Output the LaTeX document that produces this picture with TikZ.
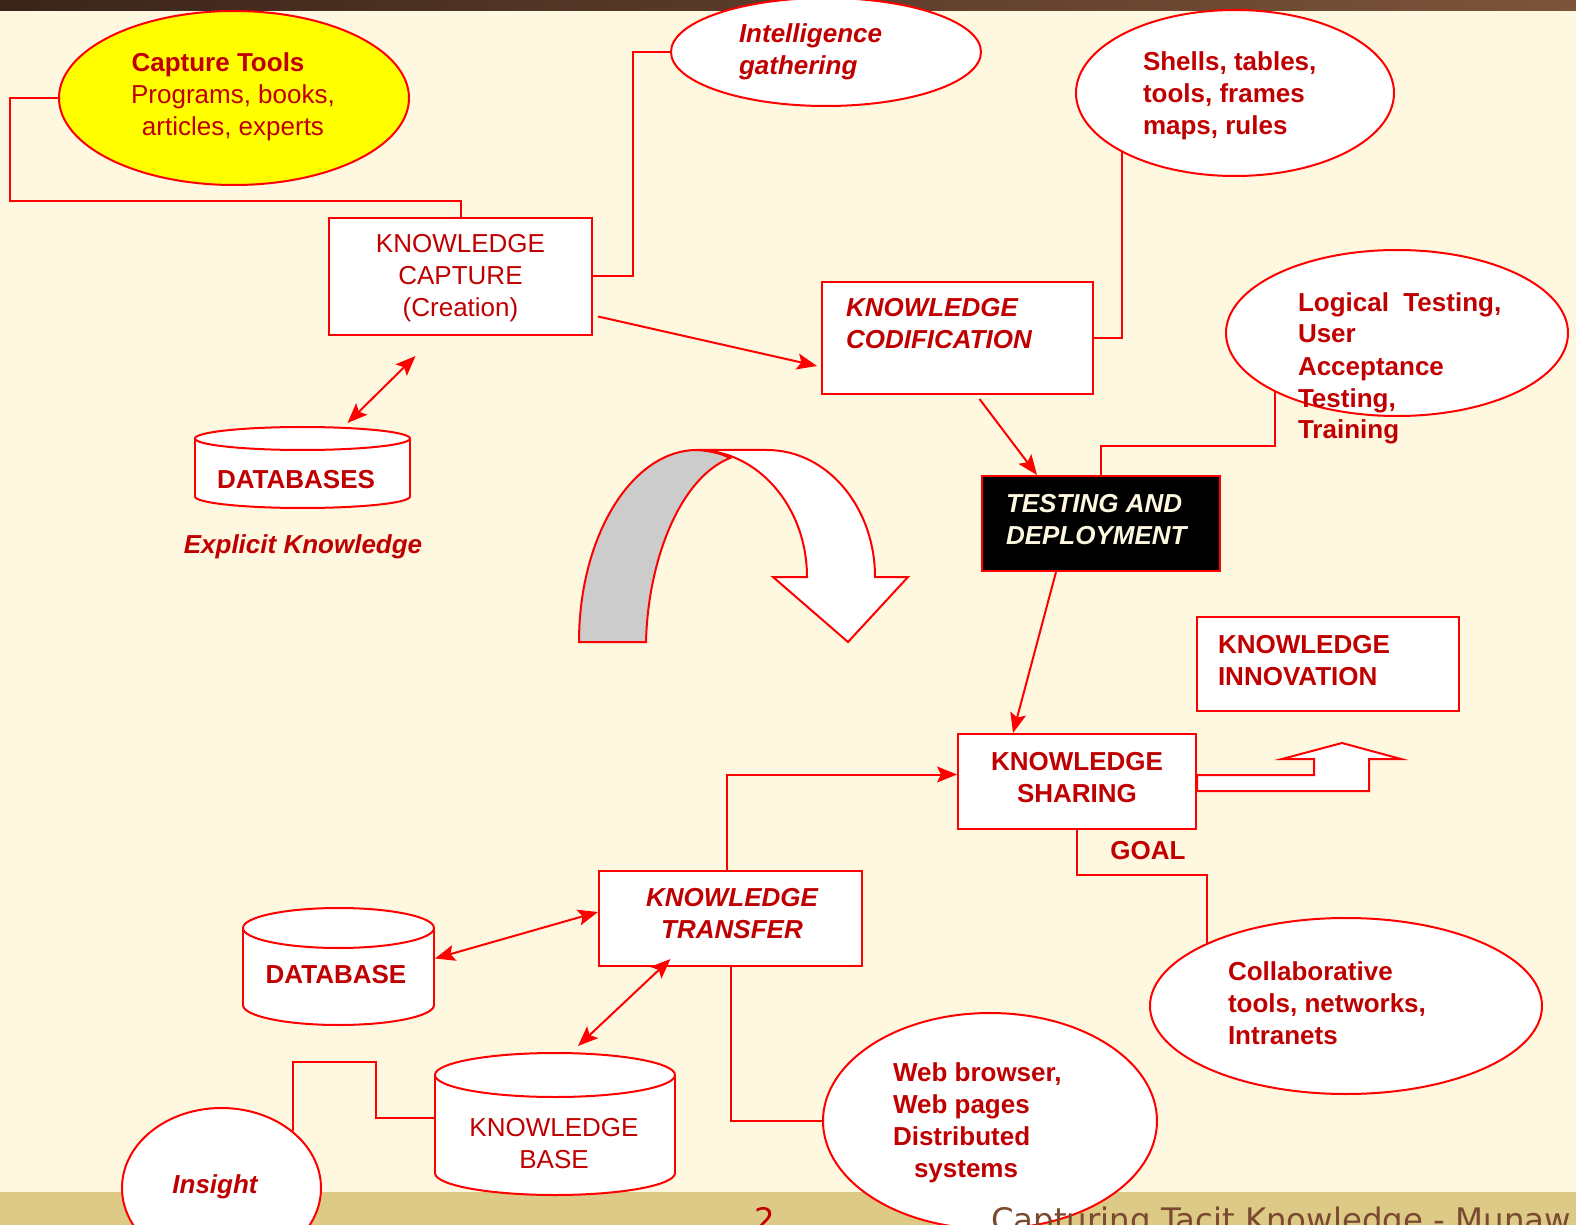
\documentclass[tikz,border=0pt]{standalone}
\usepackage{fontspec}
\setmainfont{Liberation Sans}
\newfontfamily\footfont{DejaVu Sans}
\usetikzlibrary{shapes.geometric,arrows.meta,positioning}

\definecolor{bgcream}{RGB}{255,248,225}
\definecolor{txtred}{RGB}{192,0,0}
\definecolor{linered}{RGB}{255,0,0}
\definecolor{barA}{RGB}{58,36,26}
\definecolor{barB}{RGB}{124,84,58}
\definecolor{footbar}{RGB}{221,202,135}
\definecolor{footbrown}{RGB}{122,74,48}
\definecolor{capyellow}{RGB}{255,255,0}
\definecolor{backgray}{RGB}{204,204,204}

% cylinder: name, centre x, x radius, top y, bottom y, y radius (px)
\newcommand{\dbcyl}[6]{%
  \filldraw[cylline] (#2,#5) ellipse [x radius=#3, y radius=#6];
  \fill[white] (#2-#3,#4) rectangle (#2+#3,#5);
  \draw[cylline] (#2-#3,#4) -- (#2-#3,#5) (#2+#3,#4) -- (#2+#3,#5);
  \filldraw[cylline] (#2,#4) ellipse [x radius=#3, y radius=#6];
  \node[inner sep=0pt, minimum width=#3pt, minimum height={(#5-#4)*0.5pt+#6*1pt}] (#1) at (#2,{(#4+#5)/2}) {};
}

\begin{document}
\begin{tikzpicture}[x=0.5pt, y=-0.5pt, line width=1pt,
    conn/.style={draw=linered, line width=1pt},
    arr/.style={conn, -{Stealth[length=10pt, width=8pt, inset=2pt]}},
    darr/.style={conn, {Stealth[length=10pt, width=8pt, inset=2pt]}-{Stealth[length=10pt, width=8pt, inset=2pt]}},
    cylline/.style={draw=linered, fill=white, line width=1pt},
    bubble/.style={ellipse, draw=linered, fill=white, inner sep=0pt},
    panel/.style={rectangle, draw=linered, fill=white, inner sep=0pt},
    lbl/.style={inner sep=0pt, text=txtred, font=\fontsize{13}{16}\selectfont, align=left},
    lblb/.style={lbl, font=\fontsize{13}{16}\selectfont\bfseries},
    lblbi/.style={lbl, font=\fontsize{13}{16}\selectfont\bfseries\itshape},
    footlbl/.style={inner sep=0pt, anchor=base, font=\footfont\fontsize{16.2}{19}\selectfont}]
    \useasboundingbox (0,0) rectangle (1576,1225);
    \clip (0,0) rectangle (1576,1225);

    % slide background
    \fill[bgcream] (0,0) rectangle (1576,1225);
    \shade[left color=barA, right color=barB] (0,0) rectangle (1576,11);
    \fill[footbar] (0,1192) rectangle (1576,1225);

    % bubbles
    \node[bubble, fill=capyellow, minimum width=175pt, minimum height=87pt] (captools) at (234,98) {};
    \node[bubble, minimum width=155pt, minimum height=54pt] (intel) at (826,52) {};
    \node[bubble, minimum width=159pt, minimum height=83pt] (shells) at (1235,93) {};
    \node[bubble, minimum width=171pt, minimum height=83pt] (logic) at (1397,333) {};
    \node[bubble, minimum width=196pt, minimum height=88pt] (collab) at (1346,1006) {};
    \node[bubble, minimum width=167pt, minimum height=108pt] (webb) at (990,1121) {};
    \node[bubble, minimum width=99.5pt, minimum height=80pt] (insight) at (221.5,1188) {};

    % boxes
    \node[panel, minimum width=131.5pt, minimum height=58.5pt] (kcap) at (460.5,276.5) {};
    \node[panel, minimum width=135.5pt, minimum height=56pt] (kcod) at (957.5,338) {};
    \node[panel, fill=black, minimum width=119pt, minimum height=47.5pt] (ktest) at (1101,523.5) {};
    \node[panel, minimum width=131pt, minimum height=47pt] (kinno) at (1328,664) {};
    \node[panel, minimum width=119pt, minimum height=47.5pt] (kshare) at (1077,781.5) {};
    \node[panel, minimum width=131.5pt, minimum height=47.5pt] (ktrans) at (730.5,918.5) {};

    % stores
    \dbcyl{dbs}{302.5}{107.5}{438.5}{496.5}{11.5}
    \dbcyl{dbt}{338.5}{95.5}{928}{1005}{20}
    \dbcyl{kb}{555}{120}{1075}{1173}{22}

    % big curved arrow
    \filldraw[draw=linered, fill=white] (697,450) -- (767,450) .. controls (827,450) and (875,507) .. (875,577)
        -- (908,577) -- (848,642) -- (773,577) -- (807,577) .. controls (807,507) and (758,450) .. (697,450) -- cycle;
    \filldraw[draw=linered, fill=backgray] (579,642) .. controls (579,536) and (632,450) .. (697,450)
        .. controls (712,451) and (722,454) .. (730,458) .. controls (680,478) and (648,560) .. (646,642) -- cycle;

    % connectors
    \draw[conn] (captools.west) -- ++(-48,0) -- ++(0,103) -| (kcap.north);
    \draw[conn] (kcap.east) -- ++(40,0) |- (intel.west);
    \draw[arr] ([shift={(5,40)}]kcap.east) -- ([shift={(-4,28)}]kcod.west);
    \draw[darr] ([shift={(-45,20)}]kcap.south) -- ([shift={(45,-3)}]dbs.north);
    \draw[conn] (kcod.east) -| (shells.south west);
    \draw[arr] ([shift={(22,4)}]kcod.south) -- ([shift={(-64,0)}]ktest.north);
    \draw[conn] (ktest.north) -- ++(0,-29) -| (logic.south west);
    \draw[arr] ([shift={(-45,0)}]ktest.south) -- ([shift={(-64,0)}]kshare.north);
    \draw[arr] ([shift={(-4,0)}]ktrans.north) |- ([shift={(0,-7)}]kshare.west);
    \draw[conn] (kshare.south) -- ++(0,45) -| (collab.north west);
    \draw[darr] ([shift={(0,-6.5)}]ktrans.west) -- ([shift={(0,-8)}]dbt.east);
    \draw[darr] ([shift={(-60,-8)}]ktrans.south) -- ([shift={(23,-6)}]kb.north);
    \draw[conn] (ktrans.south) |- (webb.west);
    \draw[conn] ([shift={(0,-6)}]kb.west) -- ++(-58,0) -- ++(0,-56) -| (insight.north east);

    % goal arrow
    \filldraw[draw=linered, fill=white] ([shift={(0,-6.5)}]kshare.east) -- ++(117,0) -- ++(0,-16) -- ++(-32,0)
        -- ++(60,-16) -- ++(59,16) -- ++(-32,0) -- ++(0,32) -- ([shift={(0,9.5)}]kshare.east) -- cycle;

    % texts (base = last line)
    \node[lbl, align=center, anchor=base] (t-captools) at (233,136) {\textbf{Capture Tools}\hspace*{15pt}\\Programs, books,\\articles, experts};
    \node[lblbi, anchor=base west] (t-intel) at (738,75) {Intelligence\\gathering};
    \node[lblb, anchor=base west] (t-shells) at (1142,135) {Shells, tables,\\tools, frames\\maps, rules};
    \node[lbl, align=center, anchor=base] (t-kcap) at (460.5,317) {KNOWLEDGE\\CAPTURE\\(Creation)};
    \node[lblbi, anchor=base west] (t-kcod) at (845,349) {KNOWLEDGE\\CODIFICATION};
    \node[lblb, anchor=base west] (t-logic) at (1297,439) {Logical~ Testing,\\User\\Acceptance\\Testing,\\Training};
    \node[lblb, anchor=base] (t-dbs) at (296,488) {DATABASES};
    \node[lblbi, anchor=base] (t-explicit) at (303,553) {Explicit Knowledge};
    \node[lblbi, text=bgcream, anchor=base west] (t-ktest) at (1005,545) {TESTING AND\\DEPLOYMENT};
    \node[lblb, anchor=base west] (t-kinno) at (1217,685) {KNOWLEDGE\\INNOVATION};
    \node[lblb, align=center, anchor=base] (t-kshare) at (1077,802) {KNOWLEDGE\\SHARING};
    \node[lblb, anchor=base] (t-goal) at (1148,859) {GOAL};
    \node[lblbi, align=center, anchor=base] (t-ktrans) at (732,938) {KNOWLEDGE\\TRANSFER};
    \node[lblb, anchor=base] (t-dbt) at (336,983) {DATABASE};
    \node[lbl, align=center, anchor=base] (t-kb) at (554,1168) {KNOWLEDGE\\BASE};
    \node[lblb, anchor=base west] (t-collab) at (1227,1044) {Collaborative\\tools, networks,\\Intranets};
    \node[lblb, anchor=base west] (t-webb) at (892,1177) {Web browser,\\Web pages\\Distributed\\\hspace*{10.5pt}systems};
    \node[lblbi, anchor=base] (t-insight) at (215,1193) {Insight};

    % footer
    \node[footlbl, text=txtred] (pageno) at (765,1231) {2};
    \node[footlbl, anchor=base west, text=footbrown] (footer) at (990,1231) {Capturing Tacit Knowledge - Munaw};
\end{tikzpicture}
\end{document}
